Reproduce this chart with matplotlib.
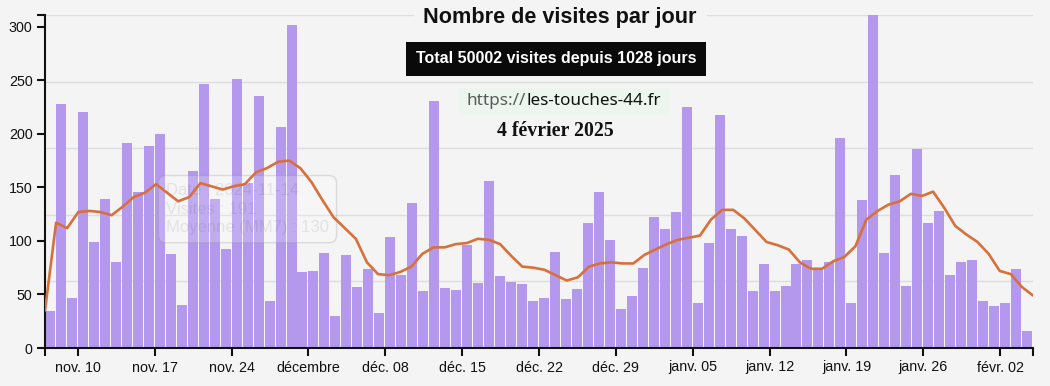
import numpy as np
import pandas as pd
import matplotlib
matplotlib.use("Agg")
import matplotlib.pyplot as plt
import matplotlib.dates as mdates
from matplotlib.patches import Rectangle

# visites par jour, du 7 nov. 2024 au 4 févr. 2025
dates = pd.date_range("2024-11-07", "2025-02-04", freq="D")
visites = [35, 228, 47, 220, 99, 139, 80, 191, 146, 189, 200, 88, 40, 165, 247,
           139, 92, 251, 154, 235, 44, 206, 302, 71,
           72, 89, 30, 87, 57, 74, 33, 104, 68, 135, 53, 231, 56, 54, 96, 61, 156,
           67, 62, 60, 44, 47, 90, 46, 55, 117, 146, 101, 36, 49, 75,
           122, 111, 127, 225, 42, 98, 218, 111, 105, 53, 78, 53, 58, 78, 82, 73,
           80, 196, 42, 138, 312, 89, 162, 58, 186, 117, 128, 68, 80, 82, 44,
           39, 42, 74, 16]
# moyenne mobile (MM7)
mm7 = [35, 117, 112, 127, 128, 127, 124, 132, 141, 145, 153, 145, 137, 141, 154,
       151, 148, 151, 153, 164, 168, 174, 175, 168, 155, 138, 122, 112, 102, 80,
       69, 68, 71, 76, 88, 94, 94, 97, 98, 102, 101, 97, 86, 76, 75,
       73, 68, 63, 66, 76, 79, 80, 79, 79, 87, 92, 97, 101, 103, 105,
       120, 129, 129, 121, 110, 99, 96, 92, 80, 74, 74, 81, 85, 95, 120,
       128, 134, 137, 144, 142, 146, 131, 114, 106, 99, 88, 72, 69, 57, 49]
tick_dates = pd.date_range("2024-11-10", periods=13, freq="7D")
tick_labels = ["nov. 10", "nov. 17", "nov. 24", "décembre", "déc. 08", "déc. 15",
               "déc. 22", "déc. 29", "janv. 05", "janv. 12", "janv. 19",
               "janv. 26", "févr. 02"]
yticks = [0, 50, 100, 150, 200, 250, 300]

bg = "#f4f4f4"
plt.rcParams["font.family"] = ["Liberation Sans", "DejaVu Sans"]

fig = plt.figure(figsize=(10.5, 3.86), dpi=100, facecolor=bg)
ax = fig.add_axes([45 / 1050, 38 / 386, 988 / 1050, 333 / 386], facecolor=bg)

x0 = mdates.date2num(dates[0])
x1 = mdates.date2num(dates[-1]) + 1
ymax = 311
ax.set_xlim(x0, x1)
ax.set_ylim(0, ymax)

# lignes de fond
for k in range(1, 6):
    ax.axhline(ymax * k / 5, color="#dddddd", lw=1, zorder=0)

ax.bar(dates, visites, width=0.91, align="edge", color="#b398ee", zorder=2)

x_line = np.linspace(x0, x1, len(mm7))
ax.plot(x_line, mm7, color="#d8703c", lw=1.9, zorder=4, solid_capstyle="round",
        solid_joinstyle="round")

ax.set_xticks(mdates.date2num(tick_dates))
ax.set_xticklabels(tick_labels)
ax.set_xticks([x0, x1], minor=True)
ax.set_yticks(yticks)
ax.set_yticks([ymax], minor=True)
ax.tick_params(which="both", direction="out", length=6, width=1.5, color="#111111",
               labelsize=10.3, labelcolor="#111111", pad=3)
for s in ["top", "right"]:
    ax.spines[s].set_visible(False)
for s in ["left", "bottom"]:
    ax.spines[s].set_linewidth(1.5)
    ax.spines[s].set_color("#111111")

# infobulle pâle, sous la courbe
ax.text(0.1225, 0.417, "Date : 2024-11-14\nVisites : 191\nMoyenne (MM7) : 130",
        transform=ax.transAxes, fontsize=12, color=(0, 0, 0, 0.08),
        va="center", ha="left", linespacing=1.3, zorder=3,
        bbox=dict(boxstyle="round,pad=0.45", fc=(1, 1, 1, 0.2),
                  ec=(0.55, 0.55, 0.55, 0.25), lw=1))

fig.text(560 / 1050, 1 - 18 / 386, "Nombre de visites par jour", ha="center",
         va="center", fontsize=15.6, fontweight="bold", color="#111111",
         bbox=dict(boxstyle="square,pad=0.45", fc=bg, ec="none"))
fig.text(556 / 1050, 1 - 59 / 386, "Total 50002 visites depuis 1028 jours",
         ha="center", va="center", fontsize=11.5, fontweight="bold", color="white",
         bbox=dict(boxstyle="square,pad=0.6", fc="#0a0a0a", ec="none"))

# adresse : "https://" en gris, le reste en noir, fond vert pâle
url_a, url_b = "https://", "les-touches-44.fr"
ta = fig.text(467 / 1050, 1 - 101 / 386, url_a, ha="left", va="center",
              fontsize=12.3, color="#5a5a5a", family="Noto Sans", zorder=3)
fig.canvas.draw()
ea = ta.get_window_extent()
tb = fig.text(ea.x1 / 1050, 1 - 101 / 386, url_b, ha="left", va="center",
              fontsize=12.3, color="#111111", family="Noto Sans", zorder=3)
fig.canvas.draw()
eb = tb.get_window_extent()
fig.patches.append(Rectangle(((ea.x0 - 8) / 1050, 271 / 386),
                             (eb.x1 - ea.x0 + 16) / 1050, 27 / 386,
                             transform=fig.transFigure, fc="#ecf6ee", ec="none",
                             zorder=2))

fig.text(555 / 1050, 1 - 131 / 386, "4 février 2025", ha="center", va="center",
         fontsize=14.3, fontweight="bold", color="#111111", family="Liberation Serif")

fig.savefig("out.png", dpi=100, facecolor=bg)
